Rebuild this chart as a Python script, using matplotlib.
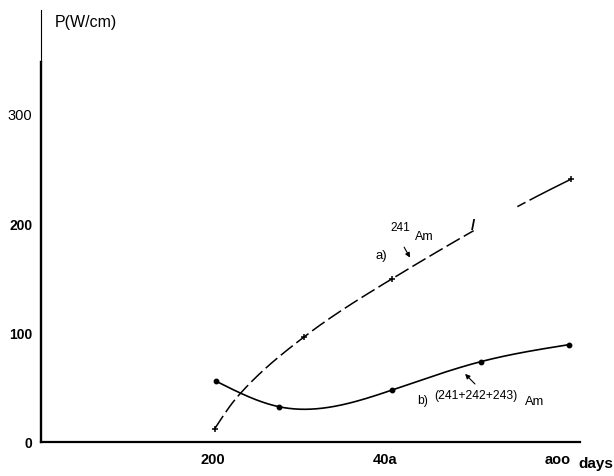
import numpy as np
import matplotlib
matplotlib.use("Agg")
import matplotlib.pyplot as plt
from matplotlib.transforms import blended_transform_factory

plt.rcParams['font.family'] = ['Liberation Sans', 'DejaVu Sans']

a_days = [202, 229, 306, 408, 615]
a_power = [12.5, 42.4, 96.8, 150, 241]
a_marked = [0, 2, 3, 4]      # punkty krzywej a) z markerem
a_gap = (503, 552)           # przerwa w linii a)
b_days = [203, 276.5, 408, 511, 613]
b_power = [56.2, 32.6, 48, 74, 89.5]

x_ticks = [200, 400, 600]
x_labels = ["200", "40a", "aoo"]
y_ticks = [0, 100, 200, 300]
y_labels = ["0", "100", "200", "300"]
y_bold = [True, True, True, False]


def natural_spline(x, y, xs):
    x = np.asarray(x, float)
    y = np.asarray(y, float)
    n = len(x)
    h = np.diff(x)
    A = np.zeros((n, n))
    r = np.zeros(n)
    A[0, 0] = A[-1, -1] = 1
    for i in range(1, n - 1):
        A[i, i - 1] = h[i - 1]
        A[i, i] = 2 * (h[i - 1] + h[i])
        A[i, i + 1] = h[i]
        r[i] = 3 * ((y[i + 1] - y[i]) / h[i] - (y[i] - y[i - 1]) / h[i - 1])
    c = np.linalg.solve(A, r)
    b = (y[1:] - y[:-1]) / h - h * (2 * c[:-1] + c[1:]) / 3
    d = (c[1:] - c[:-1]) / (3 * h)
    idx = np.clip(np.searchsorted(x, xs) - 1, 0, n - 2)
    dx = xs - x[idx]
    return y[idx] + b[idx] * dx + c[idx] * dx ** 2 + d[idx] * dx ** 3


def pchip(x, y, xs):
    # monotoniczna interpolacja Hermite'a (bez "brzuszkow")
    x = np.asarray(x, float)
    y = np.asarray(y, float)
    n = len(x)
    h = np.diff(x)
    delta = np.diff(y) / h
    d = np.zeros(n)
    for k in range(1, n - 1):
        if delta[k - 1] * delta[k] > 0:
            w1 = 2 * h[k] + h[k - 1]
            w2 = h[k] + 2 * h[k - 1]
            d[k] = (w1 + w2) / (w1 / delta[k - 1] + w2 / delta[k])
    d[0] = ((2 * h[0] + h[1]) * delta[0] - h[0] * delta[1]) / (h[0] + h[1])
    d[-1] = ((2 * h[-1] + h[-2]) * delta[-1] - h[-1] * delta[-2]) / (h[-1] + h[-2])
    idx = np.clip(np.searchsorted(x, xs) - 1, 0, n - 2)
    t = (xs - x[idx]) / h[idx]
    h00 = 2 * t ** 3 - 3 * t ** 2 + 1
    h10 = t ** 3 - 2 * t ** 2 + t
    h01 = -2 * t ** 3 + 3 * t ** 2
    h11 = t ** 3 - t ** 2
    return (h00 * y[idx] + h10 * h[idx] * d[idx]
            + h01 * y[idx + 1] + h11 * h[idx] * d[idx + 1])


fig = plt.figure(figsize=(6.14, 4.76), dpi=100)
ax = fig.add_axes([0.066, 0.0708, 0.8786, 0.908])
ax.set_xlim(0, 625.5)
ax.set_ylim(0, 396)

for s in ['top', 'right', 'left']:
    ax.spines[s].set_visible(False)
ax.spines['bottom'].set_linewidth(1.6)

# os y: gruba do ~348, cienka wyzej
tr = blended_transform_factory(ax.transAxes, ax.transData)
ax.plot([0, 0], [0, 348], color='black', lw=1.7, transform=tr, clip_on=False)
ax.plot([0, 0], [348, 396], color='black', lw=0.8, transform=tr, clip_on=False)

ax.set_xticks(x_ticks)
ax.set_xticklabels(x_labels, fontsize=10.5, fontweight='bold')
ax.set_yticks(y_ticks)
ax.set_yticklabels(y_labels, fontsize=10)
for lab, bold in zip(ax.get_yticklabels(), y_bold):
    if bold:
        lab.set_fontweight('bold')
    else:
        lab.set_fontsize(10.5)
ax.tick_params(axis='both', length=0)
ax.tick_params(axis='x', pad=8)
ax.tick_params(axis='y', pad=6)

# krzywa a) 241Am - przerywana
xa = np.linspace(a_days[0], a_days[-1], 400)
ya = pchip(a_days, a_power, xa)
m1 = xa <= a_gap[0]
m2 = xa >= a_gap[1]
ax.plot(xa[m1], ya[m1], color='black', lw=1.1, linestyle=(0, (10, 3)))
ax.plot(xa[m2], ya[m2], color='black', lw=1.1, linestyle=(0, (6, 3, 30, 3)))
ax.plot([a_days[i] for i in a_marked], [a_power[i] for i in a_marked],
        linestyle='none', marker='+', ms=5, mew=1.1, color='black')
ax.text(a_gap[0] - 2, pchip(a_days, a_power, np.array([a_gap[0]]))[0] + 4,
        "/", fontsize=11, fontweight='bold', ha='center', va='center')

# krzywa b) 241+242+243 Am - ciagla
xb = np.linspace(b_days[0], b_days[-1], 400)
yb = natural_spline(b_days, b_power, xb)
ax.plot(xb, yb, color='black', lw=1.2)
ax.plot(b_days, b_power, linestyle='none', marker='o', ms=3.2, color='black')

# opisy
ax.text(395, 171, "a)", fontsize=9.5, ha='center', va='center')
ax.text(417, 196, "241", fontsize=8.5, ha='center', va='center')
ax.text(445, 188, "Am", fontsize=9, ha='center', va='center')
ax.annotate("", xy=(430, 167), xytext=(420, 181),
            arrowprops=dict(arrowstyle='-|>', lw=0.8, color='black', mutation_scale=7))

ax.text(443.5, 38, "b)", fontsize=8.7, ha='center', va='center')
ax.text(505, 42.5, "(241+242+243)", fontsize=8.7, ha='center', va='center')
ax.text(573, 37, "Am", fontsize=9.3, ha='center', va='center')
ax.annotate("", xy=(490, 64.5), xytext=(506, 51.6),
            arrowprops=dict(arrowstyle='-|>', lw=0.8, color='black', mutation_scale=7))

fig.text(55 / 614, 1 - 22 / 476, "P(W/cm)", fontsize=11.5, ha='left', va='center')
fig.text(596 / 614, 1 - 464 / 476, "days", fontsize=11, fontweight='bold',
         ha='center', va='center')

fig.savefig("out.png", dpi=100)
